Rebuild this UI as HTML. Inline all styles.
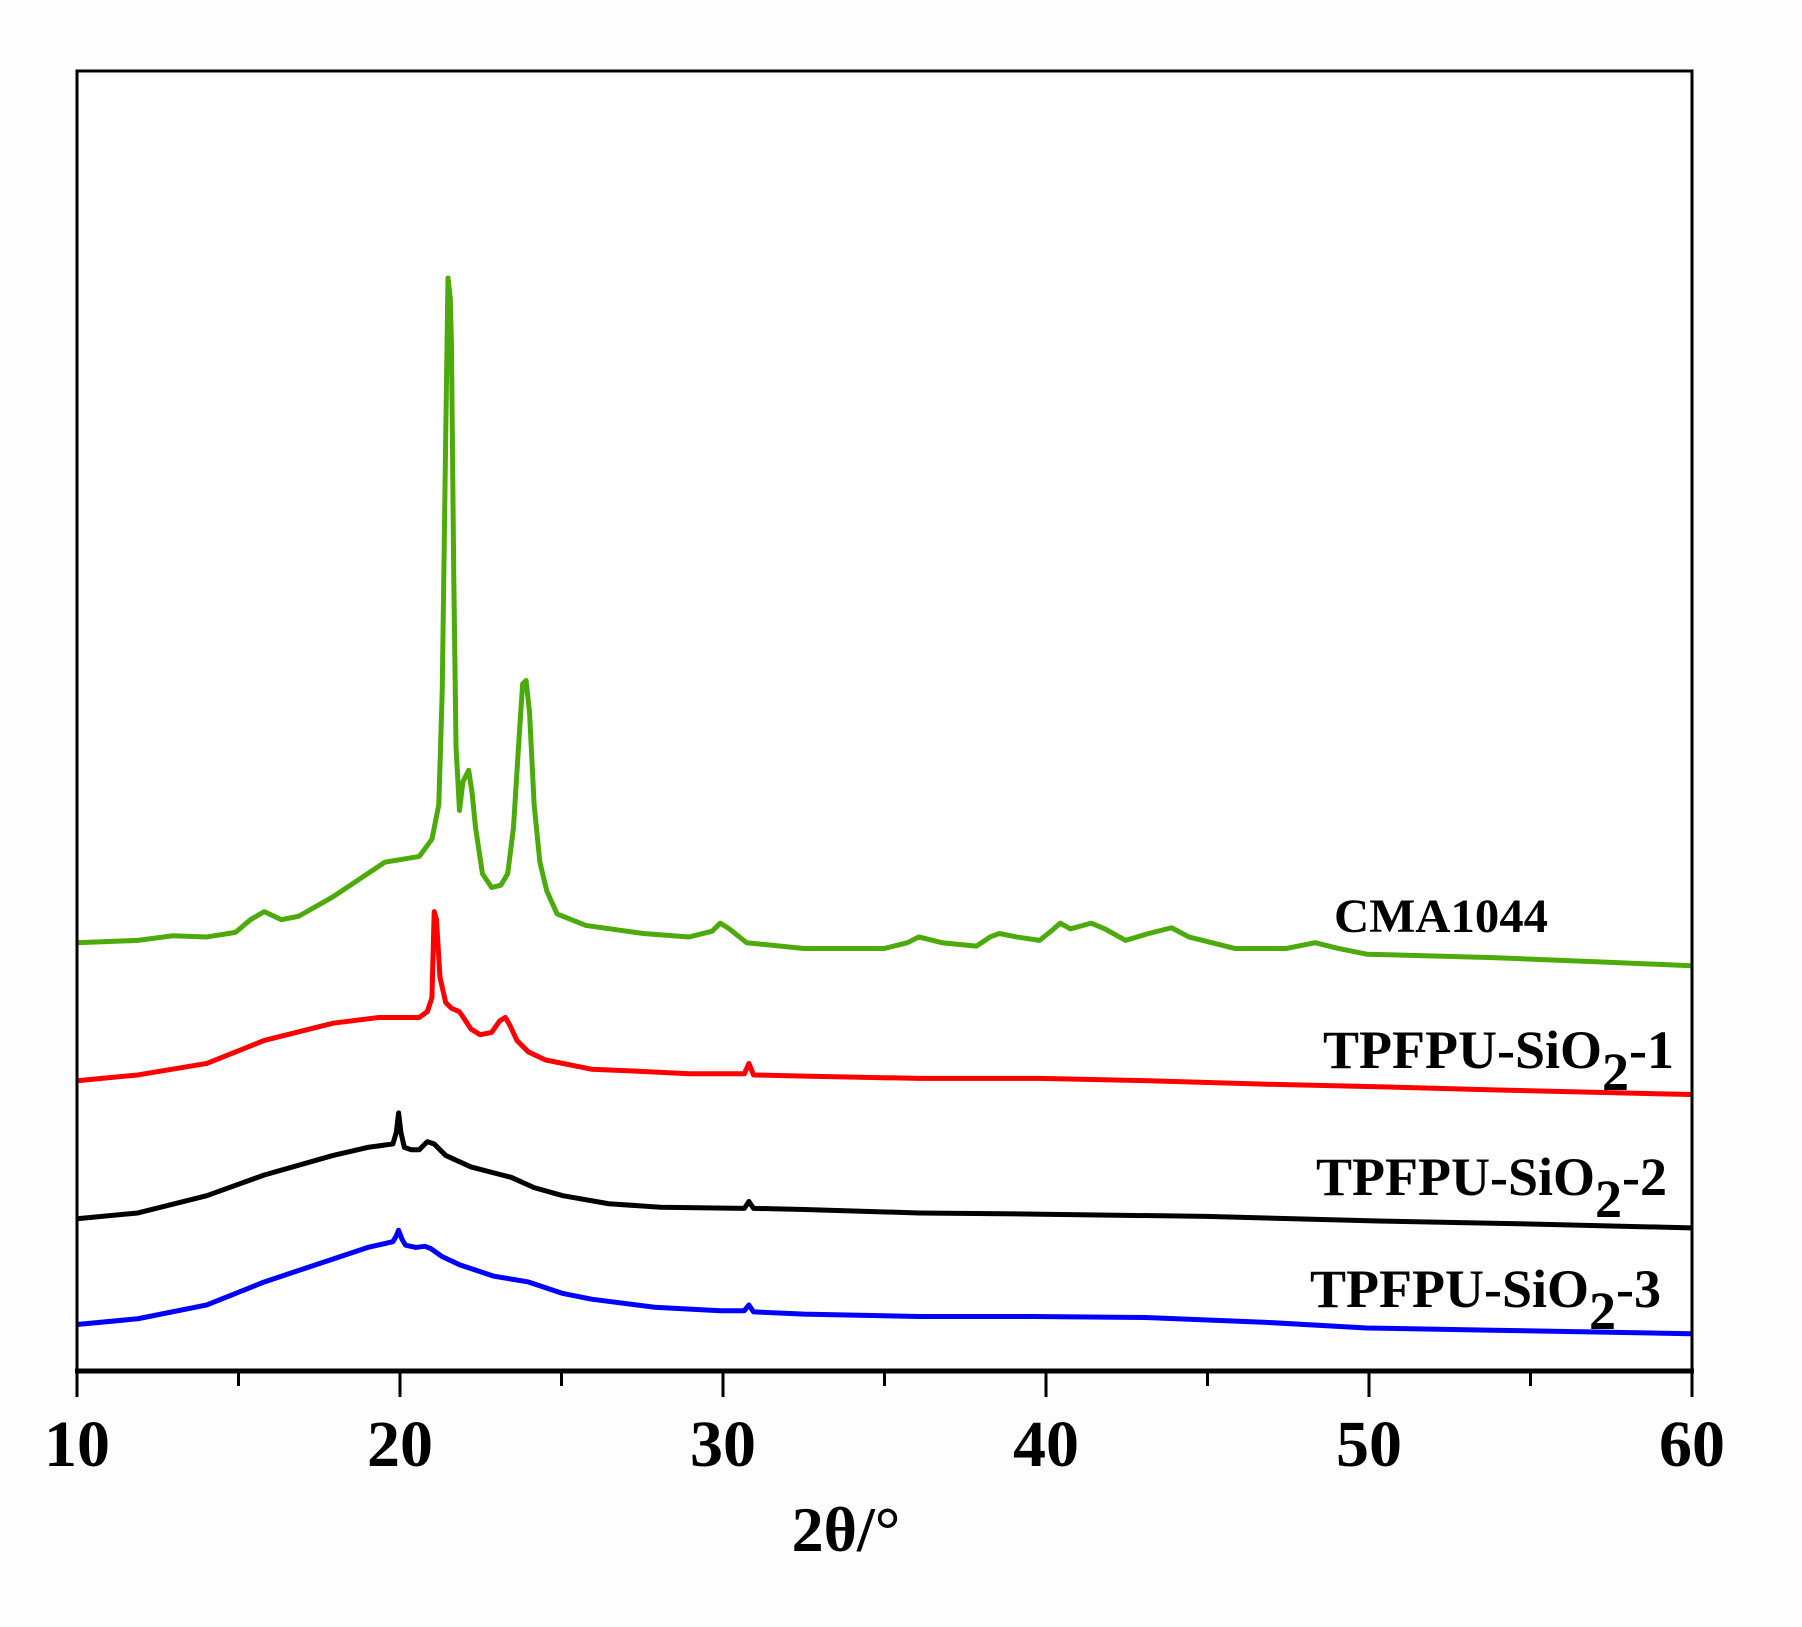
<!DOCTYPE html>
<html><head><meta charset="utf-8"><style>
html,body{margin:0;padding:0;background:#fdfdfd;}
svg{display:block;}
text{font-family:"Liberation Serif",serif;font-weight:bold;fill:#000;}
</style></head><body>
<svg width="1802" height="1627" viewBox="0 0 1802 1627" xmlns="http://www.w3.org/2000/svg">
<rect width="1802" height="1627" fill="#fdfdfd"/>
<rect x="77" y="71" width="1615" height="1300" fill="#fff"/>
<g transform="translate(77,71) scale(1.1486,1.150) translate(-67,-62)" fill="none" stroke-linejoin="round">
<polyline vector-effect="non-scaling-stroke" stroke="#4caa0a" stroke-width="5" points="67,820 120,818 150,814 180,815 205,811 218,800 230,793 245,800 260,797 290,780 320,760 335,750 365,745 376,730 382,700 385,600 388,380 390,242 392,260 393,300 395,500 397,650 400,705 403,680 408,670 411,690 414,720 420,760 428,772 436,770 442,760 447,720 452,640 455,595 458,592 461,620 465,700 470,750 476,775 485,795 510,805 560,812 600,815 620,810 627,803 635,808 650,820 700,825 770,825 790,820 800,815 820,820 850,823 862,815 870,812 885,815 905,818 915,810 923,803 932,808 950,803 962,808 980,818 1000,812 1020,807 1035,815 1075,825 1120,825 1145,820 1165,825 1190,830 1300,833 1400,837 1472,840"/>
<polyline vector-effect="non-scaling-stroke" stroke="#ff0000" stroke-width="5" points="67,940 120,935 180,925 230,905 290,890 330,885 365,885 372,880 376,868 378,793 380,800 383,850 388,872 393,877 400,880 410,895 418,900 428,898 435,888 440,885 444,892 450,905 460,915 475,922 515,930 560,932 600,934 648,934 652,925 656,935 700,936 800,938 905,938 1000,940 1100,943 1190,945 1300,948 1472,952"/>
<polyline vector-effect="non-scaling-stroke" stroke="#000" stroke-width="5" points="67,1060 120,1055 180,1040 230,1022 290,1005 320,998 342,995 345,985 347,968 349,985 352,998 358,1000 365,1000 372,993 378,995 388,1005 410,1015 437,1022 445,1024 465,1033 490,1040 530,1047 575,1050 648,1051 652,1045 656,1051 700,1052 800,1055 900,1056 1050,1058 1200,1062 1350,1065 1472,1068"/>
<polyline vector-effect="non-scaling-stroke" stroke="#0000ff" stroke-width="5" points="67,1152 120,1147 180,1135 230,1115 290,1095 320,1085 342,1080 345,1075 347,1070 350,1078 353,1083 362,1085 370,1084 375,1086 385,1093 400,1100 430,1110 460,1115 490,1125 515,1130 570,1137 627,1140 648,1140 652,1135 656,1141 700,1143 800,1145 900,1145 1000,1146 1100,1150 1190,1155 1300,1157 1472,1160"/>
</g>
<rect x="77" y="71" width="1615" height="1300" fill="none" stroke="#000" stroke-width="3"/>
<line x1="75" y1="1371" x2="1694" y2="1371" stroke="#000" stroke-width="5"/>
<g stroke="#000" stroke-width="3">
<line x1="77" y1="1371" x2="77" y2="1397"/><line x1="400" y1="1371" x2="400" y2="1397"/><line x1="723" y1="1371" x2="723" y2="1397"/><line x1="1046" y1="1371" x2="1046" y2="1397"/><line x1="1369" y1="1371" x2="1369" y2="1397"/><line x1="1692" y1="1371" x2="1692" y2="1397"/>
<line x1="238.5" y1="1371" x2="238.5" y2="1386"/><line x1="561.5" y1="1371" x2="561.5" y2="1386"/><line x1="884.5" y1="1371" x2="884.5" y2="1386"/><line x1="1207.5" y1="1371" x2="1207.5" y2="1386"/><line x1="1530.5" y1="1371" x2="1530.5" y2="1386"/>
</g>
<g font-size="66" text-anchor="middle">
<text x="77" y="1466">10</text><text x="400" y="1466">20</text><text x="723" y="1466">30</text><text x="1046" y="1466">40</text><text x="1369" y="1466">50</text><text x="1692" y="1466">60</text>
</g>
<text x="846" y="1551" font-size="64" text-anchor="middle">2θ/°</text>
<text x="1334" y="932" font-size="48" textLength="214" lengthAdjust="spacingAndGlyphs">CMA1044</text>
<text x="1323" y="1068" font-size="54">TPFPU-SiO<tspan dy="22">2</tspan><tspan dy="-22">-1</tspan></text>
<text x="1316" y="1195" font-size="54">TPFPU-SiO<tspan dy="22">2</tspan><tspan dy="-22">-2</tspan></text>
<text x="1310" y="1307" font-size="54">TPFPU-SiO<tspan dy="22">2</tspan><tspan dy="-22">-3</tspan></text>
</svg>
</body></html>
